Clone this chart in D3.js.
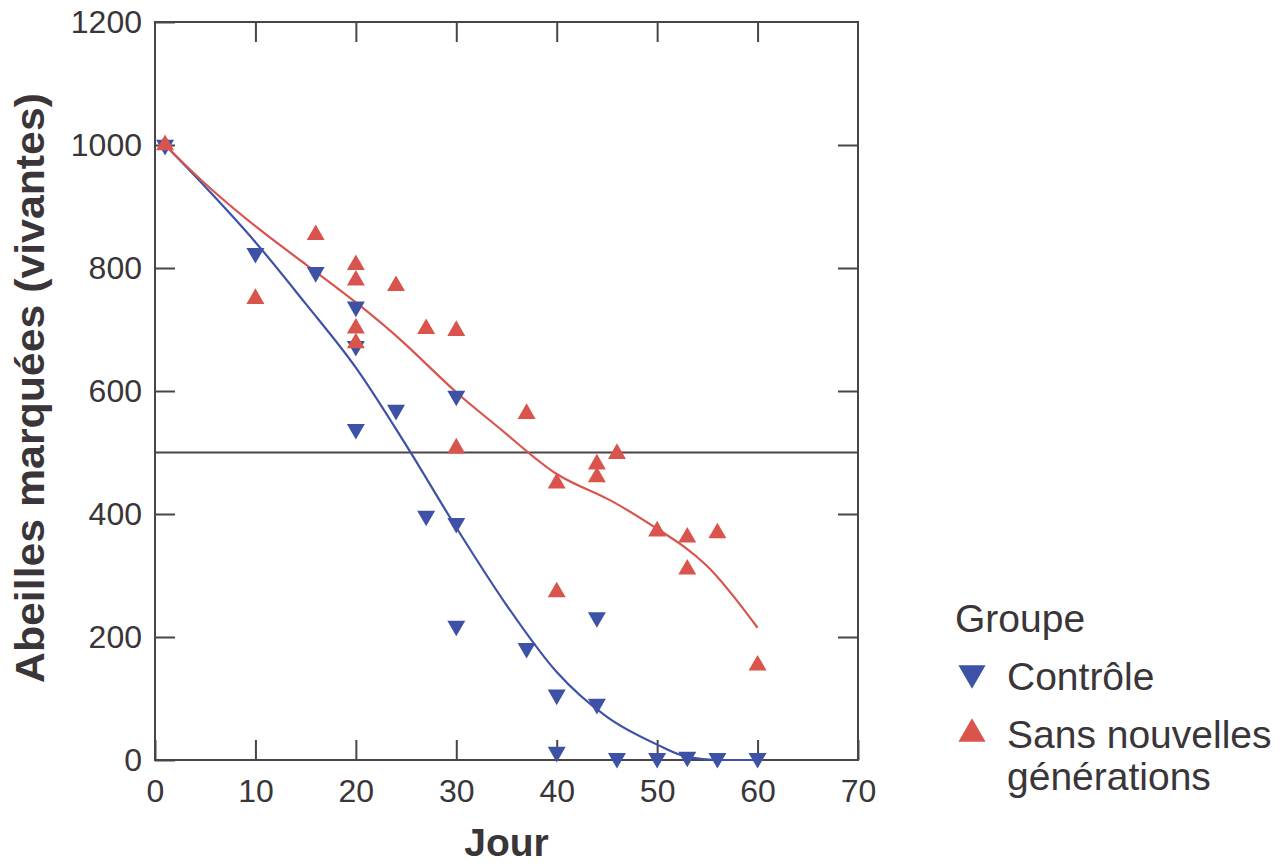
<!DOCTYPE html>
<html>
<head>
<meta charset="utf-8">
<script src="https://cdn.jsdelivr.net/npm/d3@7"></script>
<style>
  body { margin: 0; background: #fff; }
  text { font-family: "Liberation Sans", Arial, sans-serif; fill: #3a3538; }
</style>
</head>
<body>
<script>
// observed points, group "Contrôle"
const controlDay   = [1, 10, 16, 20, 20, 20, 24, 27, 30, 30, 30, 37, 40, 40, 44, 44, 46, 50, 53, 56, 60];
const controlCount = [1000, 824, 793, 737, 673, 538, 569, 397, 592, 385, 218, 182, 106, 13, 232, 91, 3, 3, 5, 3, 3];

// observed points, group "Sans nouvelles générations"
const sansDay   = [1, 10, 16, 20, 20, 20, 20, 24, 27, 30, 30, 37, 40, 40, 44, 44, 46, 50, 53, 53, 56, 60];
const sansCount = [1000, 750, 854, 805, 780, 702, 678, 771, 701, 698, 507, 563, 450, 273, 481, 460, 498, 372, 362, 310, 369, 154];

// smoothed curves
const controlFitDay   = [1, 5, 10, 15, 20, 25, 30, 35, 40, 45, 50, 53, 56, 60];
const controlFitCount = [1000, 932, 842, 742, 638, 512, 378, 252, 143, 70, 25, 5, 0, 0];
const sansFitDay   = [1, 5, 10, 15, 20, 25, 30, 35, 40, 45, 50, 55, 60];
const sansFitCount = [1000, 937, 868, 806, 744, 675, 598, 530, 465, 425, 376, 315, 215];

const xTicks = [0, 10, 20, 30, 40, 50, 60, 70];
const yTicks = [0, 200, 400, 600, 800, 1000, 1200];
const refLine = 500;

const width = 1282, height = 866;
const margin = {left: 155, top: 22, right: 424, bottom: 106};
const pw = width - margin.left - margin.right;
const ph = height - margin.top - margin.bottom;

const blue = "#3d52a6", red = "#d9544c", ink = "#4a4448";

const svg = d3.select("body").append("svg")
  .attr("width", width)
  .attr("height", height);

const g = svg.append("g")
  .attr("transform", "translate(" + margin.left + "," + margin.top + ")");

const x = d3.scaleLinear().domain([0, 70]).range([0, pw]);
const y = d3.scaleLinear().domain([0, 1200]).range([ph, 0]);

// frame
g.append("rect")
  .attr("width", pw).attr("height", ph)
  .attr("fill", "none").attr("stroke", ink).attr("stroke-width", 2);

function styleAxis(sel) {
  sel.select(".domain").remove();
  sel.selectAll(".tick line").attr("stroke", ink).attr("stroke-width", 2);
  sel.selectAll(".tick text")
    .style("font-size", "32px")
    .attr("fill", "#3a3538");
}

g.append("g")
  .call(d3.axisLeft(y).tickValues(yTicks).tickFormat(d3.format("d"))
    .tickSizeInner(-20).tickSizeOuter(0).tickPadding(13))
  .call(styleAxis);

g.append("g")
  .attr("transform", "translate(" + pw + ",0)")
  .call(d3.axisRight(y).tickValues(yTicks.slice(1, -1)).tickSizeInner(-20).tickSizeOuter(0).tickFormat(""))
  .call(styleAxis);

g.append("g")
  .attr("transform", "translate(0," + ph + ")")
  .call(d3.axisBottom(x).tickValues(xTicks).tickFormat(d3.format("d"))
    .tickSizeInner(-20).tickSizeOuter(0).tickPadding(19))
  .call(styleAxis);

g.append("g")
  .call(d3.axisTop(x).tickValues(xTicks.slice(1, -1)).tickSizeInner(-20).tickSizeOuter(0).tickFormat(""))
  .call(styleAxis);

// reference line at 500
g.append("line")
  .attr("x1", 0).attr("x2", pw)
  .attr("y1", y(refLine)).attr("y2", y(refLine))
  .attr("stroke", ink).attr("stroke-width", 2);

// fitted curves
const line = d3.line()
  .x(d => x(d[0]))
  .y(d => y(d[1]))
  .curve(d3.curveMonotoneX);

g.append("path")
  .datum(d3.zip(controlFitDay, controlFitCount))
  .attr("d", line)
  .attr("fill", "none").attr("stroke", blue).attr("stroke-width", 2.2);

g.append("path")
  .datum(d3.zip(sansFitDay, sansFitCount))
  .attr("d", line.curve(d3.curveNatural))
  .attr("fill", "none").attr("stroke", red).attr("stroke-width", 2.2);

// markers
const tri = d3.symbol().type(d3.symbolTriangle).size(140);

g.selectAll(".ctrl")
  .data(d3.zip(controlDay, controlCount))
  .enter().append("path")
  .attr("class", "ctrl")
  .attr("d", tri)
  .attr("transform", d => "translate(" + x(d[0]) + "," + y(d[1]) + ") rotate(180)")
  .attr("fill", blue);

g.selectAll(".sans")
  .data(d3.zip(sansDay, sansCount))
  .enter().append("path")
  .attr("class", "sans")
  .attr("d", tri)
  .attr("transform", d => "translate(" + x(d[0]) + "," + y(d[1]) + ")")
  .attr("fill", red);

// axis titles
svg.append("text")
  .attr("x", margin.left + x(35))
  .attr("y", 856)
  .attr("text-anchor", "middle")
  .style("font-size", "39px")
  .style("font-weight", "bold")
  .text("Jour");

svg.append("text")
  .attr("transform", "translate(44,388) rotate(-90)")
  .attr("text-anchor", "middle")
  .style("font-size", "40px")
  .style("font-weight", "bold")
  .attr("textLength", 590)
  .attr("lengthAdjust", "spacingAndGlyphs")
  .text("Abeilles marquées (vivantes)");

// legend
const leg = svg.append("g").attr("transform", "translate(955,0)");
leg.append("text").attr("x", 0).attr("y", 632).style("font-size", "39px").text("Groupe");
leg.append("path")
  .attr("d", d3.symbol().type(d3.symbolTriangle).size(320))
  .attr("transform", "translate(17,673) rotate(180)")
  .attr("fill", blue);
leg.append("text").attr("x", 52).attr("y", 690).style("font-size", "39px").text("Contrôle");
leg.append("path")
  .attr("d", d3.symbol().type(d3.symbolTriangle).size(320))
  .attr("transform", "translate(17,734)")
  .attr("fill", red);
leg.append("text").attr("x", 52).attr("y", 748).style("font-size", "39px").text("Sans nouvelles");
leg.append("text").attr("x", 52).attr("y", 790).style("font-size", "39px").text("générations");
</script>
</body>
</html>
